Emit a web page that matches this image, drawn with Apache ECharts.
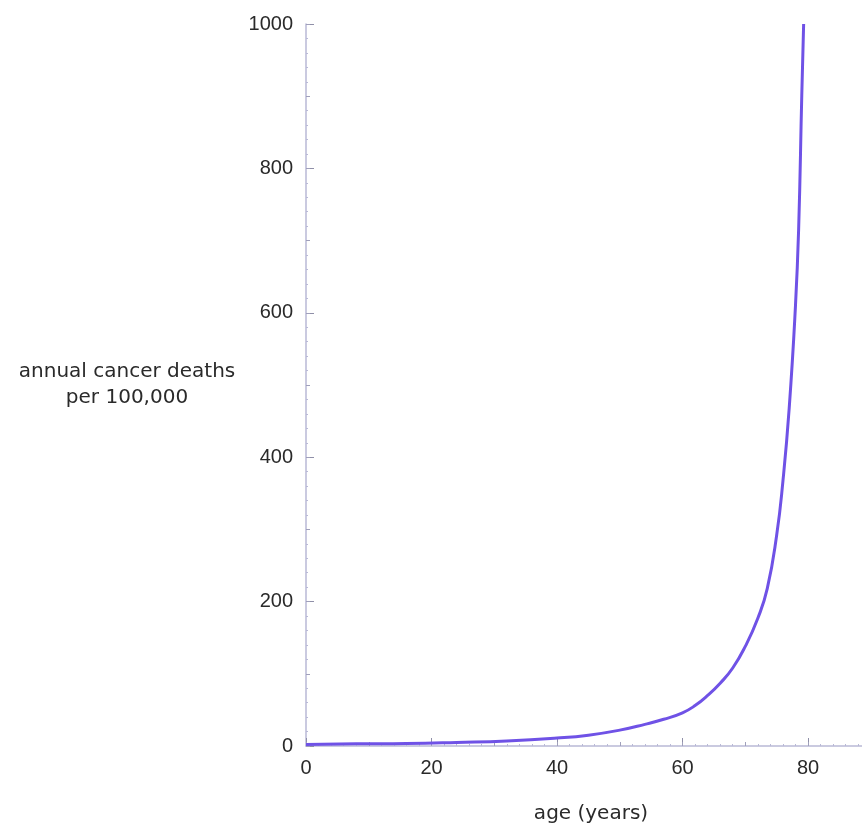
<!DOCTYPE html>
<html>
<head>
<meta charset="utf-8">
<script src="https://cdn.jsdelivr.net/npm/echarts@6/dist/echarts.min.js"></script>
<style>
  html, body { margin: 0; padding: 0; background: #ffffff; }
  #chart { width: 862px; height: 824px; }
</style>
</head>
<body>
<div id="chart"></div>
<script>
// Age (years) and annual cancer deaths per 100,000 people
const ages   = [0, 8, 16, 24, 32, 40, 45, 50, 54, 57, 60, 62, 64, 66, 68, 70, 72, 73.5, 75, 76, 77, 78, 78.5, 79, 79.3];
const deaths = [2, 3, 3.5, 5, 7, 11, 15, 22, 30, 37, 46, 56, 70, 87, 108, 138, 177, 218, 292, 367, 468, 610, 715, 900, 1000];

const xTicks = [0, 20, 40, 60, 80];
const yTicks = [0, 200, 400, 600, 800, 1000];

const axisColor = '#b9b9d6';
const textColor = '#2a2a2a';
const tickFont = '"Liberation Sans", sans-serif';
const nameFont = '"DejaVu Sans", sans-serif';

const chart = echarts.init(document.getElementById('chart'));
chart.setOption({
  animation: false,
  grid: { left: 306, right: 0, top: 24, bottom: 78, outerBoundsMode: 'none', containLabel: false },
  xAxis: [
    {
      type: 'value', min: 0, max: 88.6, interval: 20,
      name: 'age (years)', nameLocation: 'middle', nameGap: 58,
      nameTextStyle: { fontSize: 20, color: textColor, fontFamily: nameFont, padding: [0, 0, 0, 14] },
      axisLine: { show: true, lineStyle: { color: axisColor, width: 1.5 } },
      axisTick: { show: true, inside: true, length: 8, lineStyle: { color: '#8f8fa8', width: 1 } },
      minorTick: { show: true, splitNumber: 10, length: 2, lineStyle: { color: axisColor } },
      splitLine: { show: false },
      axisLabel: {
        margin: 12, fontSize: 20, color: textColor, fontFamily: tickFont,
        formatter: v => (xTicks.indexOf(v) >= 0 ? String(v) : '')
      }
    },
    {
      type: 'value', min: 0, max: 88.6, interval: 10, position: 'bottom',
      axisLine: { show: false },
      axisTick: { show: true, inside: true, length: 4, lineStyle: { color: '#a0a0bb' } },
      axisLabel: { show: false }, splitLine: { show: false }
    }
  ],
  yAxis: [
    {
      type: 'value', min: 0, max: 1000, interval: 200,
      name: 'annual cancer deaths\nper 100,000', nameLocation: 'middle', nameRotate: 0, nameGap: 179,
      nameTextStyle: { fontSize: 20, color: textColor, fontFamily: nameFont, align: 'center', lineHeight: 26, padding: [0, 0, 44, 0] },
      axisLine: { show: true, lineStyle: { color: axisColor, width: 1.5 } },
      axisTick: { show: true, inside: true, length: 8, lineStyle: { color: '#8f8fa8', width: 1 } },
      minorTick: { show: true, splitNumber: 10, length: 2, lineStyle: { color: axisColor } },
      splitLine: { show: false },
      axisLabel: {
        margin: 13, fontSize: 20, color: textColor, fontFamily: tickFont,
        formatter: v => (yTicks.indexOf(v) >= 0 ? String(v) : '')
      }
    },
    {
      type: 'value', min: 0, max: 1000, interval: 100, position: 'left',
      axisLine: { show: false },
      axisTick: { show: true, inside: true, length: 4, lineStyle: { color: '#a0a0bb' } },
      axisLabel: { show: false }, splitLine: { show: false }
    }
  ],
  series: [{
    type: 'line',
    data: ages.map((a, i) => [a, deaths[i]]),
    smooth: 0.5,
    showSymbol: false,
    lineStyle: { color: '#6f52e6', width: 3 }
  }]
});
</script>
</body>
</html>
